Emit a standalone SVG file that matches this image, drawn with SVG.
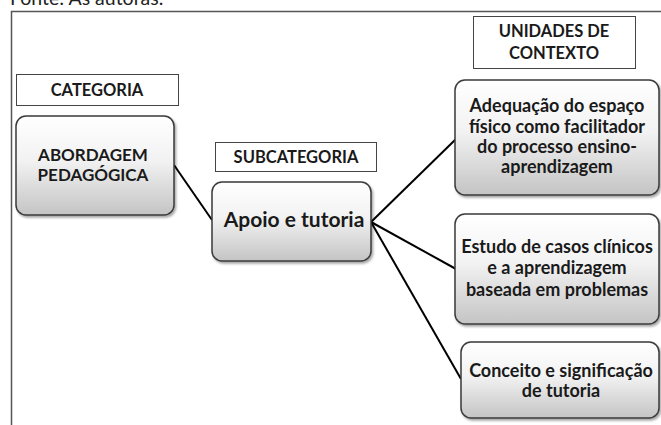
<svg xmlns="http://www.w3.org/2000/svg" width="661" height="425" viewBox="0 0 661 425">
  <defs>
    <linearGradient id="g" x1="0" y1="0" x2="0" y2="1">
      <stop offset="0" stop-color="#ffffff"/>
      <stop offset="0.45" stop-color="#f2f2f2"/>
      <stop offset="1" stop-color="#c4c4c4"/>
    </linearGradient>
    <filter id="sh" x="-10%" y="-10%" width="120%" height="125%">
      <feDropShadow dx="1.5" dy="2" stdDeviation="1.2" flood-color="#000" flood-opacity="0.35"/>
    </filter>
  </defs>
  <style>
    .node { fill: url(#g); stroke: #3a3a3a; stroke-width: 1.5; filter: url(#sh); }
    .label { fill: #fff; stroke: #444; stroke-width: 1; }
    .t { font-family: Lato, "Open Sans", "Liberation Sans", sans-serif; font-weight: bold; fill: #1a1a1a; text-anchor: middle; }
    .lt { font-size: 16.5px; }
    .nt { font-size: 18px; }
    .conn { stroke: #000; stroke-width: 2; fill: none; }
    .frame { stroke: #555; stroke-width: 1.5; fill: none; }
  </style>
  <rect width="661" height="425" fill="#fff"/>
  <text x="10" y="5" font-family="Lato, 'Open Sans', sans-serif" font-size="19.5" fill="#222">Fonte: As autoras.</text>
  <path class="frame" d="M11.5,425 V11.5 H661"/>

  <g id="connectors">
    <line class="conn" x1="174" y1="165" x2="212" y2="220"/>
    <line class="conn" x1="371" y1="222" x2="456" y2="139"/>
    <line class="conn" x1="371" y1="222" x2="456" y2="269"/>
    <line class="conn" x1="371" y1="222" x2="461" y2="379"/>
  </g>

  <g id="label-categoria">
    <rect class="label" x="16.5" y="74.5" width="162" height="31"/>
    <text class="t lt" x="97" y="96">CATEGORIA</text>
  </g>
  <g id="label-subcategoria">
    <rect class="label" x="215.5" y="142.5" width="161" height="29"/>
    <text class="t lt" x="296" y="163">SUBCATEGORIA</text>
  </g>
  <g id="label-unidades">
    <rect class="label" x="473.5" y="16.5" width="162" height="52"/>
    <text class="t lt" x="554" y="37">UNIDADES DE</text>
    <text class="t lt" x="554" y="59">CONTEXTO</text>
  </g>

  <g id="node-abordagem">
    <rect class="node" x="16" y="116" width="158" height="99" rx="10"/>
    <text class="t" x="93" y="161" font-size="17">ABORDAGEM</text>
    <text class="t" x="93" y="181" font-size="17">PEDAGÓGICA</text>
  </g>
  <g id="node-apoio">
    <rect class="node" x="212" y="182" width="159" height="79" rx="10"/>
    <text class="t" x="294" y="227" font-size="21">Apoio e tutoria</text>
  </g>
  <g id="node-adequacao">
    <rect class="node" x="455" y="80" width="204" height="115" rx="10"/>
    <text class="t nt" x="557" y="112">Adequação do espaço</text>
    <text class="t nt" x="557" y="133">físico como facilitador</text>
    <text class="t nt" x="557" y="153">do processo ensino-</text>
    <text class="t nt" x="557" y="173">aprendizagem</text>
  </g>
  <g id="node-estudo">
    <rect class="node" x="455" y="214" width="204" height="110" rx="10"/>
    <text class="t nt" x="557" y="253">Estudo de casos clínicos</text>
    <text class="t nt" x="557" y="274">e a aprendizagem</text>
    <text class="t nt" x="557" y="296">baseada em problemas</text>
  </g>
  <g id="node-conceito">
    <rect class="node" x="461" y="342" width="198" height="76" rx="10"/>
    <text class="t nt" x="561" y="377">Conceito e significação</text>
    <text class="t nt" x="561" y="397">de tutoria</text>
  </g>
</svg>
